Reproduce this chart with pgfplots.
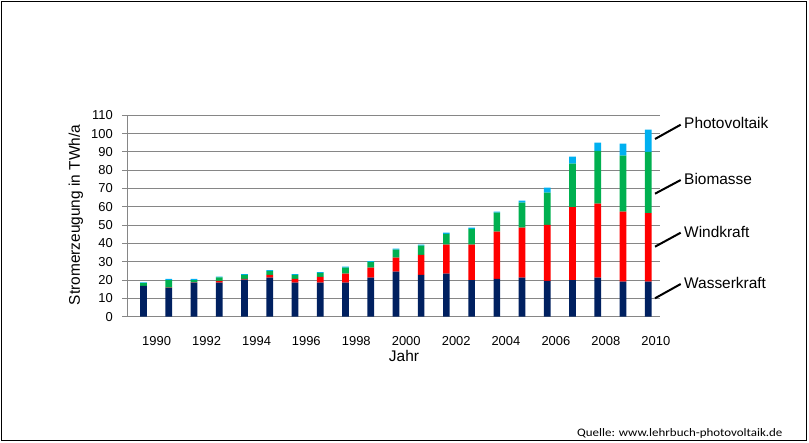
\documentclass[border=0pt]{standalone}
\usepackage{pgfplots}
\pgfplotsset{compat=1.18}
\usepackage{pgfplotstable}
\usepackage{fontspec}
\setmainfont{Liberation Sans}
\newfontfamily\carlito{Carlito}

\definecolor{wasser}{HTML}{002060}
\definecolor{wind}{HTML}{FF0000}
\definecolor{bio}{HTML}{00B050}
\definecolor{pv}{HTML}{00B0F0}
\definecolor{axisgray}{HTML}{868686}

% Stromerzeugung aus erneuerbaren Energien in TWh/a
\pgfplotstableread{
year hydro wind bio pv
1990 16.9 0.0 1.5 0.4
1991 15.8 0.1 4.1 0.6
1992 18.6 0.2 1.2 0.6
1993 18.6 0.9 2.0 0.4
1994 20.2 0.4 2.2 0.5
1995 21.3 1.6 2.0 0.6
1996 18.6 2.0 2.2 0.5
1997 18.6 3.1 2.2 0.5
1998 18.6 4.9 3.3 0.5
1999 21.3 5.5 3.1 0.5
2000 24.6 7.6 4.4 0.6
2001 22.8 10.9 5.1 0.5
2002 23.5 15.8 6.0 0.6
2003 20.0 19.3 8.6 0.7
2004 20.6 25.8 10.4 0.6
2005 21.3 27.3 13.7 1.1
2006 19.5 30.6 17.6 2.8
2007 20.0 39.9 23.7 3.8
2008 21.3 40.4 28.8 4.6
2009 19.1 38.3 30.6 6.5
2010 19.1 37.5 33.4 12.2
}\strom

\begin{document}
\begin{tikzpicture}
\begin{axis}[
  at={(127bp,126.3bp)}, anchor=south west,
  scale only axis, width=533bp, height=201.4bp,
  ybar stacked, bar width=6.7bp,
  xmin=1989.346, xmax=2010.464, ymin=0, ymax=110,
  ytick={0,10,...,110},
  xtick={1990.52,1992.50,1994.48,1996.45,1998.43,2000.41,2002.39,2004.36,2006.34,2008.32,2010.30},
  xticklabels={1990,1992,1994,1996,1998,2000,2002,2004,2006,2008,2010},
  axis x line=bottom, axis y line=left,
  axis line style={draw=axisgray, line width=1bp, -},
  ymajorgrids, grid style={draw=axisgray, line width=1bp},
  x tick style={draw=none},
  y tick style={draw=axisgray, line width=1bp},
  tick align=outside, major tick length=5bp,
  tick label style={font=\fontsize{13}{15}\selectfont},
  /pgf/number format/assume math mode=true,
  xticklabel style={anchor=north, inner sep=0pt, yshift=-15bp},
  yticklabel style={anchor=east, inner sep=0pt, xshift=-9bp},
]
\addplot[fill=wasser, draw=none] table[x=year, y=hydro] {\strom};
\addplot[fill=wind, draw=none] table[x=year, y=wind] {\strom};
\addplot[fill=bio, draw=none] table[x=year, y=bio] {\strom};
\addplot[fill=pv, draw=none] table[x=year, y=pv] {\strom};
\end{axis}

\node[rotate=90, font=\fontsize{15.5}{18}\selectfont] at (76bp,228bp) {Stromerzeugung in TWh/a};
\node[anchor=base, inner sep=0pt, font=\fontsize{15.5}{18}\selectfont] at (404bp,81.3bp) {Jahr};

\begin{scope}[font=\fontsize{15.5}{18}\selectfont]
\node[anchor=west, inner sep=0pt] at (684bp,319.7bp) {Photovoltaik};
\node[anchor=west, inner sep=0pt] at (684bp,264.3bp) {Biomasse};
\node[anchor=west, inner sep=0pt] at (684bp,211.3bp) {Windkraft};
\node[anchor=west, inner sep=0pt] at (684bp,160.3bp) {Wasserkraft};
\end{scope}
\begin{scope}[line width=2bp]
\draw (655bp,304bp) -- (680.7bp,318.3bp);
\draw (655bp,249.3bp) -- (680.7bp,263bp);
\draw (655bp,196.3bp) -- (680.7bp,210.3bp);
\draw (655bp,144.7bp) -- (680.7bp,159bp);
\end{scope}

\node[anchor=base east, inner sep=0pt, xscale=1.13, font=\carlito\fontsize{11.5}{13}\selectfont] at (782.7bp,6.5bp) {Quelle: www.lehrbuch-photovoltaik.de};

\pgfresetboundingbox
\path[use as bounding box] (0,0) rectangle (809bp,443bp);
\draw[line width=1.2bp] (1.5bp,2.5bp) rectangle (806.5bp,441.5bp);
\end{tikzpicture}
\end{document}
